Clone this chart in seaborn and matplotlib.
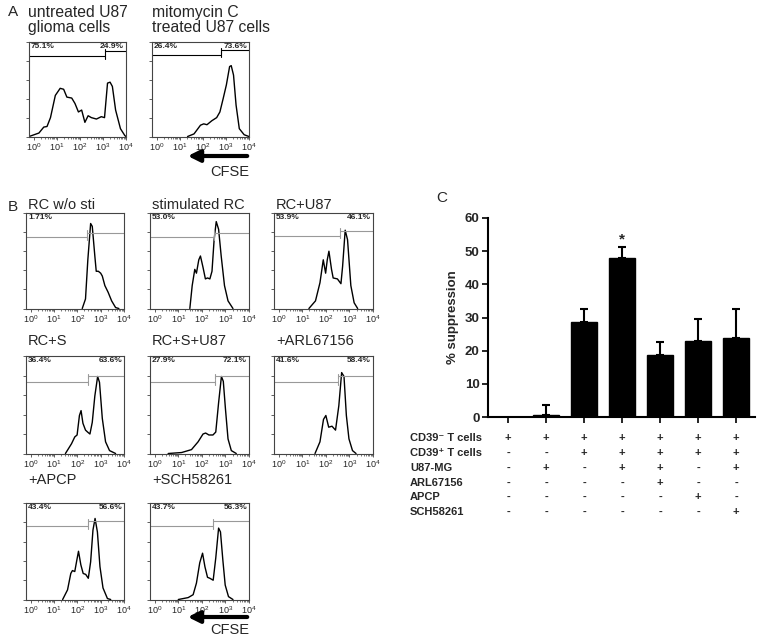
#!/usr/bin/env python3

#import packages
import numpy as np
import seaborn as sns
import matplotlib.pyplot as plt
from matplotlib import transforms
from matplotlib.patches import FancyArrowPatch

# ---- flow histograms: x = log10(CFSE), y = relative count (fraction of box height)
a1_x = [-0.2, 0.23, 0.44, 0.58, 0.73, 0.94, 1.15, 1.3, 1.44, 1.65, 1.79, 1.94, 2.08, 2.22, 2.36,
        2.5, 2.72, 2.93, 3.07, 3.2, 3.31, 3.41, 3.55, 3.76, 3.95, 4.0]
a1_y = [0.0, 0.037, 0.10, 0.106, 0.20, 0.435, 0.51, 0.50, 0.417, 0.407, 0.35, 0.26, 0.28, 0.15, 0.22,
        0.20, 0.185, 0.21, 0.20, 0.565, 0.575, 0.53, 0.28, 0.083, 0.01, 0.0]
a2_x = [1.34, 1.62, 1.9, 2.04, 2.18, 2.39, 2.6, 2.74, 2.88, 3.02, 3.16, 3.23, 3.33, 3.44, 3.58, 3.79, 4.0]
a2_y = [0.0, 0.028, 0.12, 0.134, 0.125, 0.167, 0.20, 0.26, 0.40, 0.546, 0.74, 0.75, 0.65, 0.333, 0.083,
        0.019, 0.0]

b1_x = [2.21, 2.35, 2.45, 2.57, 2.64, 2.75, 2.81, 2.9, 3.0, 3.07, 3.18, 3.32, 3.47, 3.64, 3.78]
b1_y = [0.0, 0.10, 0.51, 0.89, 0.86, 0.55, 0.39, 0.39, 0.37, 0.34, 0.24, 0.17, 0.08, 0.01, 0.0]
b2_x = [1.49, 1.59, 1.7, 1.77, 1.87, 1.94, 2.05, 2.15, 2.24, 2.34, 2.43, 2.52, 2.61, 2.71, 2.82,
        2.96, 3.11, 3.32]
b2_y = [0.0, 0.24, 0.41, 0.37, 0.51, 0.55, 0.43, 0.31, 0.32, 0.31, 0.39, 0.72, 0.91, 0.83, 0.55,
        0.24, 0.08, 0.0]
b3_x = [1.28, 1.56, 1.75, 1.89, 1.99, 2.06, 2.13, 2.24, 2.31, 2.49, 2.64, 2.71, 2.82, 2.92, 3.06, 3.2, 3.35]
b3_y = [0.0, 0.08, 0.27, 0.51, 0.37, 0.51, 0.60, 0.41, 0.32, 0.31, 0.26, 0.44, 0.82, 0.72, 0.24, 0.06, 0.0]

c1_x = [1.49, 1.75, 1.89, 1.99, 2.09, 2.16, 2.24, 2.35, 2.44, 2.54, 2.64, 2.75, 2.87, 2.95, 3.07,
        3.21, 3.38, 3.64]
c1_y = [0.0, 0.10, 0.17, 0.19, 0.39, 0.44, 0.31, 0.24, 0.22, 0.20, 0.32, 0.59, 0.79, 0.73, 0.36,
        0.12, 0.03, 0.0]
c2_x = [0.57, 1.14, 1.56, 1.84, 2.05, 2.16, 2.3, 2.47, 2.59, 2.71, 2.83, 2.91, 3.0, 3.11, 3.25, 3.46]
c2_y = [0.0, 0.01, 0.04, 0.12, 0.20, 0.21, 0.19, 0.19, 0.22, 0.52, 0.79, 0.74, 0.46, 0.15, 0.03, 0.0]
c3_x = [1.54, 1.75, 1.9, 2.0, 2.12, 2.26, 2.41, 2.55, 2.67, 2.77, 2.87, 2.98, 3.13, 3.28]
c3_y = [0.0, 0.12, 0.35, 0.39, 0.27, 0.28, 0.24, 0.49, 0.83, 0.79, 0.39, 0.15, 0.03, 0.0]

d1_x = [1.37, 1.58, 1.72, 1.79, 1.89, 1.98, 2.05, 2.15, 2.25, 2.36, 2.47, 2.57, 2.67, 2.76, 2.86,
        2.97, 3.1, 3.29, 3.43]
d1_y = [0.0, 0.10, 0.27, 0.30, 0.29, 0.41, 0.50, 0.36, 0.27, 0.26, 0.22, 0.39, 0.72, 0.84, 0.70,
        0.34, 0.12, 0.01, 0.0]
d2_x = [1.0, 1.42, 1.63, 1.77, 1.91, 2.03, 2.13, 2.24, 2.34, 2.48, 2.59, 2.71, 2.79, 2.89, 2.99,
        3.13, 3.32]
d2_y = [0.0, 0.02, 0.05, 0.17, 0.38, 0.48, 0.34, 0.23, 0.22, 0.20, 0.43, 0.74, 0.70, 0.41, 0.15,
        0.03, 0.0]

# gates: split position (log10), left/right bar heights, percentages
gate_pos = [3.09, 2.77, 2.42, 2.52, 2.6, 2.46, 2.55, 2.52, 2.44, 2.48]
gate_left = [0.85, 0.866, 0.745, 0.745, 0.76, 0.73, 0.73, 0.73, 0.76, 0.76]
gate_right = [0.90, 0.912, 0.795, 0.795, 0.815, 0.79, 0.79, 0.79, 0.81, 0.81]
pct_left = ['75.1%', '26.4%', '1.71%', '53.0%', '53.9%', '36.4%', '27.9%', '41.6%', '43.4%', '43.7%']
pct_right = ['24.9%', '73.6%', '', '', '46.1%', '63.6%', '72.1%', '58.4%', '56.6%', '56.3%']
titles = ['untreated U87\nglioma cells', 'mitomycin C\ntreated U87 cells',
          'RC w/o sti', 'stimulated RC', 'RC+U87',
          'RC+S', 'RC+S+U87', '+ARL67156',
          '+APCP', '+SCH58261']
traces = [(a1_x, a1_y), (a2_x, a2_y), (b1_x, b1_y), (b2_x, b2_y), (b3_x, b3_y),
          (c1_x, c1_y), (c2_x, c2_y), (c3_x, c3_y), (d1_x, d1_y), (d2_x, d2_y)]

# ---- panel C: % suppression
conditions = ['1', '2', '3', '4', '5', '6', '7']
suppression = [0.0, 0.6, 28.5, 47.8, 18.6, 22.8, 23.9]
sem = [0.0, 2.9, 4.0, 3.6, 4.1, 6.6, 8.8]
row_labels = ['CD39\u207b T cells', 'CD39\u207a T cells', 'U87-MG', 'ARL67156', 'APCP', 'SCH58261']
table = [['+', '+', '+', '+', '+', '+', '+'],
         ['-', '-', '+', '+', '+', '+', '+'],
         ['-', '+', '-', '+', '+', '-', '+'],
         ['-', '-', '-', '-', '+', '-', '-'],
         ['-', '-', '-', '-', '-', '+', '-'],
         ['-', '-', '-', '-', '-', '-', '+']]

sns.set_style('ticks')
plt.rcParams['font.family'] = ['Liberation Sans', 'DejaVu Sans']
plt.rcParams['mathtext.fontset'] = 'custom'
plt.rcParams['mathtext.rm'] = 'Liberation Sans'
plt.rcParams['mathtext.bf'] = 'Liberation Sans:bold'

W, H = 757, 636
fig = plt.figure(figsize=(W / 100, H / 100), dpi=100)


def box(l, t, r, b):
    return [l / W, 1 - b / H, (r - l) / W, (b - t) / H]


# pixel boxes of the histogram panels (left, top, right, bottom)
boxes = [(29, 42, 126, 137), (152, 42, 249, 137),
         (26, 213, 124, 309), (150, 213, 249, 309), (274, 213, 373, 309),
         (26, 356, 124, 454), (150, 356, 249, 454), (274, 356, 373, 454),
         (26, 503, 124, 600), (150, 503, 249, 600)]
# title anchor (x, y centre) in pixels
title_pos = [(28, 20), (152, 20),
             (28, 205), (152, 205), (276, 205),
             (28, 341), (152, 341), (276, 341),
             (28, 480), (152, 480)]
title_size = [11.3, 11.3] + [10.5] * 8

minor = [np.log10(k) + n for n in range(4) for k in range(2, 10)]

for i, (xs, ys) in enumerate(traces):
    ax = fig.add_axes(box(*boxes[i]))
    sns.lineplot(x=xs, y=ys, ax=ax, color='black', linewidth=1.0,
                 sort=False, estimator=None)
    ax.set_xlim(-0.2, 4.0)
    ax.set_ylim(-0.005, 1.0)
    ax.set_xticks([0, 1, 2, 3, 4])
    ax.set_xticks(minor, minor=True)
    ax.set_xticklabels([r'$10^{0}$', r'$10^{1}$', r'$10^{2}$', r'$10^{3}$', r'$10^{4}$'],
                       fontsize=6.5)
    ax.set_yticks([0, 0.2, 0.4, 0.6, 0.8, 1.0])
    ax.set_yticklabels([])
    ax.tick_params(axis='both', which='major', length=2, width=0.6, pad=1, color='#444444')
    ax.tick_params(axis='x', which='minor', length=1.2, width=0.5, color='#444444')
    for s in ax.spines.values():
        s.set_color('#444444')
        s.set_linewidth(0.8)
    gcol = 'black' if i < 2 else '#999999'
    g = gate_pos[i]
    yl, yr = gate_left[i], gate_right[i]
    ax.plot([-0.2, g], [yl, yl], color=gcol, lw=0.8)
    ax.plot([g, 4.0], [yr, yr], color=gcol, lw=0.8)
    ax.plot([g, g], [yl - 0.025, yl + 0.025], color=gcol, lw=0.8)
    ax.plot([g, g], [yr - 0.025, yr + 0.025], color=gcol, lw=0.8)
    ax.text(0.02, 0.985, pct_left[i], transform=ax.transAxes, ha='left', va='top',
            fontsize=6, fontweight='bold')
    ax.text(0.98, 0.985, pct_right[i], transform=ax.transAxes, ha='right', va='top',
            fontsize=6, fontweight='bold')
    tx, ty = title_pos[i]
    fig.text(tx / W, 1 - ty / H, titles[i], ha='left', va='center', fontsize=title_size[i],
             linespacing=1.0)

# panel letters
fig.text(8 / W, 1 - 12 / H, 'A', fontsize=11, va='center')
fig.text(8 / W, 1 - 207 / H, 'B', fontsize=11, va='center')
fig.text(436 / W, 1 - 198 / H, 'C', fontsize=11, va='center')

# CFSE arrows
for ay, ly in [(156, 172), (617, 630)]:
    fig.add_artist(FancyArrowPatch(
        (250 / W, 1 - ay / H), (185 / W, 1 - ay / H), transform=fig.transFigure,
        arrowstyle='-|>,head_length=7,head_width=3.5', lw=3, color='black',
        mutation_scale=1))
    fig.text(249 / W, 1 - ly / H, 'CFSE', ha='right', va='center', fontsize=10.5)

# ---- bar chart
axc = fig.add_axes(box(488, 218, 755, 417))
sns.barplot(x=conditions, y=suppression, color='black', saturation=1, width=0.68,
            edgecolor='black', errorbar=None, ax=axc)
pos = np.arange(len(conditions))
axc.errorbar(pos[1:], suppression[1:], yerr=[np.zeros(len(sem) - 1), sem[1:]], fmt='none',
             ecolor='black', elinewidth=1.5, capsize=3, capthick=1.5)
axc.text(pos[3], 53.5, '*', ha='center', va='center', fontsize=11, fontweight='bold')
axc.set_xlim(-0.53, 6.5)
axc.set_ylim(0, 60)
axc.set_yticks([0, 10, 20, 30, 40, 50, 60])
axc.set_yticklabels(['0', '10', '20', '30', '40', '50', '60'], fontsize=9.5, fontweight='bold')
axc.set_xticklabels([])
axc.set_xlabel('')
axc.set_ylabel('% suppression', fontsize=9.5, fontweight='bold', labelpad=4)
axc.tick_params(axis='both', length=4, width=1.2, pad=2, color='black')
sns.despine(ax=axc)
for s in ['left', 'bottom']:
    axc.spines[s].set_linewidth(1.5)
    axc.spines[s].set_color('black')

# condition table under the bars
trans = transforms.blended_transform_factory(axc.transData, fig.transFigure)
row_y = [438, 453, 468, 483, 497, 512]
for r, lab in enumerate(row_labels):
    fig.text(410 / W, 1 - row_y[r] / H, lab, ha='left', va='center', fontsize=8,
             fontweight='bold')
    for c, sym in enumerate(table[r]):
        axc.text(pos[c], 1 - row_y[r] / H, sym, transform=trans, ha='center', va='center',
                 fontsize=8, fontweight='bold')

plt.savefig('out.png', dpi=100)
